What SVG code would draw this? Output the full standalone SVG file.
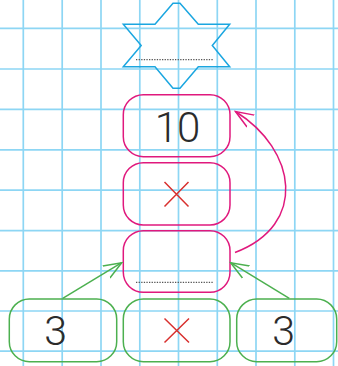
<svg xmlns="http://www.w3.org/2000/svg" width="338" height="366" viewBox="0 0 338 366">
<style>
.grid line{stroke:#8dd6f4;stroke-width:1.7}
.pink{fill:none;stroke:#e0197d;stroke-width:1.5}
.green{fill:none;stroke:#4cb04f;stroke-width:1.5}
.num{font-family:Roboto,"DejaVu Sans","Liberation Sans",sans-serif;font-weight:300;fill:#2b2b2b;text-anchor:middle}
.cross{stroke:#d8302e;stroke-width:1.5;fill:none}
.dots{stroke:#555;stroke-width:1.2;stroke-dasharray:1.3 1.3}
</style>
<defs>
<marker id="ag" viewBox="0 0 20 20" refX="18" refY="10" markerWidth="20" markerHeight="20" markerUnits="userSpaceOnUse" orient="auto">
<path d="M0,3 L18,10 L0,17" fill="none" stroke="#4cb04f" stroke-width="1.5"/>
</marker>
<marker id="ap" viewBox="0 0 20 20" refX="18" refY="10" markerWidth="20" markerHeight="20" markerUnits="userSpaceOnUse" orient="auto">
<path d="M0,3 L18,10 L0,17" fill="none" stroke="#e0197d" stroke-width="1.5"/>
</marker>
</defs>
<rect width="338" height="366" fill="#fff"/>
<g class="grid">
<line x1="23.3" y1="0" x2="23.3" y2="366"/>
<line x1="62.2" y1="0" x2="62.2" y2="366"/>
<line x1="101" y1="0" x2="101" y2="366"/>
<line x1="139.8" y1="0" x2="139.8" y2="366"/>
<line x1="178.5" y1="0" x2="178.5" y2="366"/>
<line x1="217.3" y1="0" x2="217.3" y2="366"/>
<line x1="256" y1="0" x2="256" y2="366"/>
<line x1="294.8" y1="0" x2="294.8" y2="366"/>
<line x1="333.5" y1="0" x2="333.5" y2="366"/>
<line x1="0" y1="28.4" x2="338" y2="28.4"/>
<line x1="0" y1="69" x2="338" y2="69"/>
<line x1="0" y1="109.4" x2="338" y2="109.4"/>
<line x1="0" y1="149.8" x2="338" y2="149.8"/>
<line x1="0" y1="190.2" x2="338" y2="190.2"/>
<line x1="0" y1="230.6" x2="338" y2="230.6"/>
<line x1="0" y1="270.8" x2="338" y2="270.8"/>
<line x1="0" y1="311" x2="338" y2="311"/>
<line x1="0" y1="351.2" x2="338" y2="351.2"/>
</g>
<g id="star">
<polygon points="173,3.3 180,3.3 198.3,24.3 229.7,24.3 212.3,45.5 229.7,66.7 198.3,66.7 180,88.3 173,88.3 155,66.7 123.3,66.7 141.2,45.5 123.3,24.3 155,24.3" fill="none" stroke="#1aa6e0" stroke-width="1.5"/>
<line class="dots" x1="136" y1="59.6" x2="214" y2="59.6"/>
</g>
<g id="box-10">
<rect class="pink" x="123.3" y="94.7" width="106.7" height="62" rx="20"/>
<text class="num" x="177" y="142.3" font-size="42" letter-spacing="-1">10</text>
</g>
<g id="box-times">
<rect class="pink" x="123.3" y="162.7" width="106.7" height="62.3" rx="20"/>
<path class="cross" d="M164.5,182 L188.5,206.5 M188.5,182 L164.5,206.5"/>
</g>
<g id="box-result">
<rect class="pink" x="123.3" y="230.7" width="106.7" height="61.6" rx="20"/>
<line class="dots" x1="136" y1="282.4" x2="214" y2="282.4"/>
</g>
<g id="box-3a">
<rect class="green" x="9.3" y="299" width="107.4" height="62.7" rx="20"/>
<text class="num" x="55.5" y="344.5" font-size="41">3</text>
</g>
<g id="box-times2">
<rect class="green" x="123.3" y="299" width="106.7" height="62.7" rx="20"/>
<path class="cross" d="M164.5,318.5 L189,342.5 M189,318.5 L164.5,342.5"/>
</g>
<g id="box-3b">
<rect class="green" x="236.7" y="299" width="100" height="62.7" rx="20"/>
<text class="num" x="283.5" y="344.5" font-size="41">3</text>
</g>
<g id="connectors">
<line class="green" x1="62.7" y1="298.3" x2="121.7" y2="262.7" marker-end="url(#ag)"/>
<line class="green" x1="289.3" y1="298.3" x2="230.7" y2="262.7" marker-end="url(#ag)"/>
<path class="pink" d="M235,252.5 C308,225 297,150 235.5,111.5" marker-end="url(#ap)"/>
</g>
</svg>
